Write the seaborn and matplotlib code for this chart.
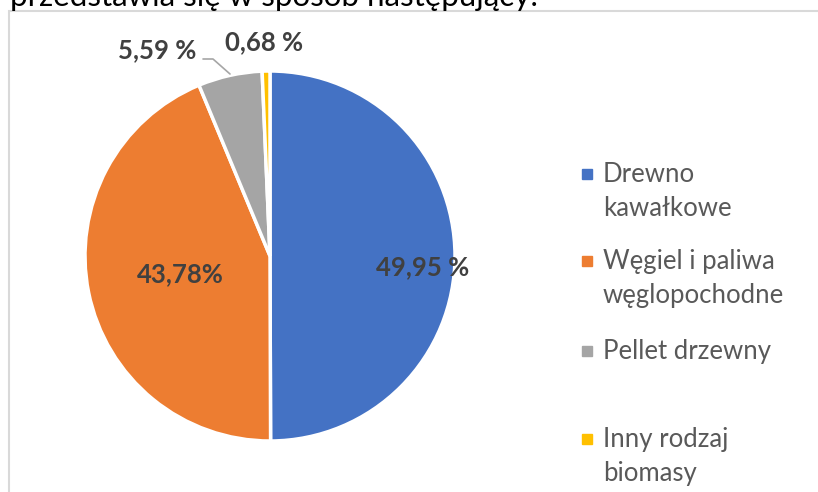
import matplotlib.pyplot as plt
import seaborn as sns
from matplotlib.patches import Rectangle

# dane
categories = ['Drewno\nkawałkowe', 'Węgiel i paliwa\nwęglopochodne', 'Pellet drzewny', 'Inny rodzaj\nbiomasy']
shares = [49.95, 43.78, 5.59, 0.68]
pct_labels = ['49,95 %', '43,78%', '5,59 %', '0,68 %']
colors = ['#4472C4', '#ED7D31', '#A5A5A5', '#FFC000']

sns.set_theme(style='white')
plt.rcParams['font.family'] = ['Lato', 'DejaVu Sans']

W, H = 818, 492
fig = plt.figure(figsize=(W / 100, H / 100), dpi=100)

# pie: center (270, 256) px, radius 185 px
cx, cy, R, half = 270, 256, 185, 215
ax = fig.add_axes([(cx - half) / W, (H - cy - half) / H, 2 * half / W, 2 * half / H])
wedges, _ = ax.pie(shares, colors=colors, startangle=90, counterclock=False, radius=1,
                   wedgeprops=dict(edgecolor='white', linewidth=2.5))
ax.set_xlim(-half / R, half / R)
ax.set_ylim(-half / R, half / R)
ax.set_aspect('equal')
ax.axis('off')


def px(x, y):
    return (x - cx) / R, (cy - y) / R


label_pos = [px(423, 267), px(180, 274), px(157, 50), px(264, 42)]
for (x, y), txt in zip(label_pos, pct_labels):
    ax.text(x, y, txt, ha='center', va='center', fontsize=18.5, fontweight='bold', color='#404040')

# linia odniesienia dla 5,59 %
lx, ly = zip(px(203, 59), px(213, 59), px(230, 74))
ax.plot(lx, ly, color='#A6A6A6', lw=1.2, clip_on=False)

# legenda (ręcznie, jak w Excelu)
leg_y = [174, 261, 351, 439]
for name, col, y in zip(categories, colors, leg_y):
    fig.patches.append(Rectangle(((587 - 5) / W, (H - y - 5) / H), 10 / W, 10 / H,
                                 transform=fig.transFigure, color=col, figure=fig))
    for i, line in enumerate(name.split('\n')):
        fig.text(603 / W, (H - y - i * 34) / H, line, ha='left', va='center',
                 fontsize=18.5, color='#595959')

# ramka wykresu
fig.patches.append(Rectangle((9 / W, -0.1), 1.2, (H - 11) / H + 0.1, transform=fig.transFigure,
                             fill=False, edgecolor='#D9D9D9', lw=1.5, figure=fig))

# ucięty tekst nad wykresem
fig.text(10 / W, (H - 6) / H, 'przedstawia się w sposób następujący:', ha='left', va='baseline',
         fontsize=22.5, color='black')

fig.savefig('out.png', dpi=100)
